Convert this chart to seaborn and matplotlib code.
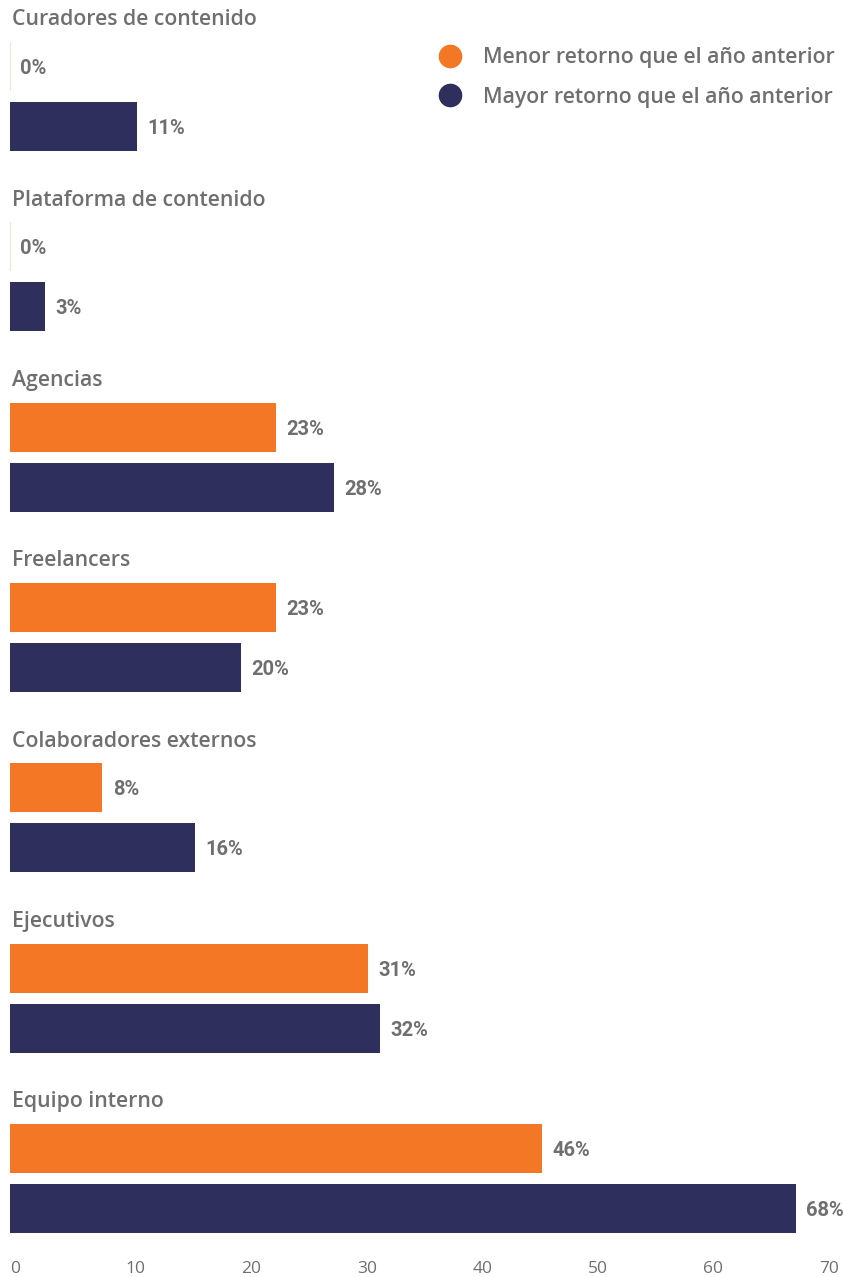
import matplotlib
matplotlib.use("Agg")
import matplotlib.pyplot as plt
from matplotlib.lines import Line2D
import seaborn as sns
import pandas as pd

categories = [
    "Curadores de contenido",
    "Plataforma de contenido",
    "Agencias",
    "Freelancers",
    "Colaboradores externos",
    "Ejecutivos",
    "Equipo interno",
]
menor_retorno = [0, 0, 23, 23, 8, 31, 46]
mayor_retorno = [11, 3, 28, 20, 16, 32, 68]
series_names = ["Menor retorno que el año anterior", "Mayor retorno que el año anterior"]
x_ticks = [0, 10, 20, 30, 40, 50, 60, 70]

ORANGE = "#F47725"
NAVY = "#2F2F5E"
ZERO_EDGE = "#FDDCC4"
TEXT_GRAY = "#6F6F6F"

df = pd.DataFrame({
    "categoria": categories * 2,
    "serie": [series_names[0]] * len(categories) + [series_names[1]] * len(categories),
    "valor": menor_retorno + mayor_retorno,
})

sns.set_theme(style="white")
plt.rcParams["font.family"] = ["Open Sans", "DejaVu Sans"]

W, H = 844, 1277
fig = plt.figure(figsize=(W / 100, H / 100), dpi=100)
ax = fig.add_axes([10 / W, (H - 1240) / H, 809 / W, 1240 / H])

sns.barplot(
    data=df, x="valor", y="categoria", hue="serie", order=categories,
    hue_order=series_names, palette=[ORANGE, NAVY], orient="h",
    width=0.6655, gap=0.183, saturation=1, linewidth=0, legend=False, ax=ax,
)

# zero-valued bars show as a faint hairline at the baseline
for bar in ax.patches:
    if bar.get_width() == 0:
        bar.set_edgecolor(ZERO_EDGE)
        bar.set_linewidth(1.2)

for cont in ax.containers:
    labels = ax.bar_label(cont, fmt="{:.0f}%", padding=7.5, color=TEXT_GRAY,
                          fontsize=14.5, fontweight="bold",
                          family=["Roboto", "DejaVu Sans"])
    for lab in labels:
        lab.set_va("center_baseline")

# group titles above each pair of bars
for i, cat in enumerate(categories):
    ax.text(0.17, i - 0.425, cat, ha="left", va="center", fontsize=15.3,
            fontweight="semibold", color=TEXT_GRAY)

ax.set_xlim(0, 70)
ax.set_ylim(6.341, -0.535)
ax.set_xticks(x_ticks)
ax.set_xticklabels([str(t) for t in x_ticks], ha="left", color=TEXT_GRAY, fontsize=12.5)
ax.tick_params(axis="x", length=0, pad=15)
ax.set_yticks([])
ax.set_xlabel("")
ax.set_ylabel("")
for s in ax.spines.values():
    s.set_visible(False)

handles = [
    Line2D([], [], marker="o", linestyle="", markersize=16, color=c)
    for c in (ORANGE, NAVY)
]
leg = fig.legend(
    handles, series_names, loc="upper left",
    bbox_to_anchor=(420 / W, 1 - 30 / H), frameon=False,
    handlelength=1.2, handletextpad=0.95, labelspacing=0.88,
    borderpad=0.3, prop={"size": 15.3, "weight": "semibold"},
)
for t in leg.get_texts():
    t.set_color(TEXT_GRAY)

fig.savefig("out.png", dpi=100)
